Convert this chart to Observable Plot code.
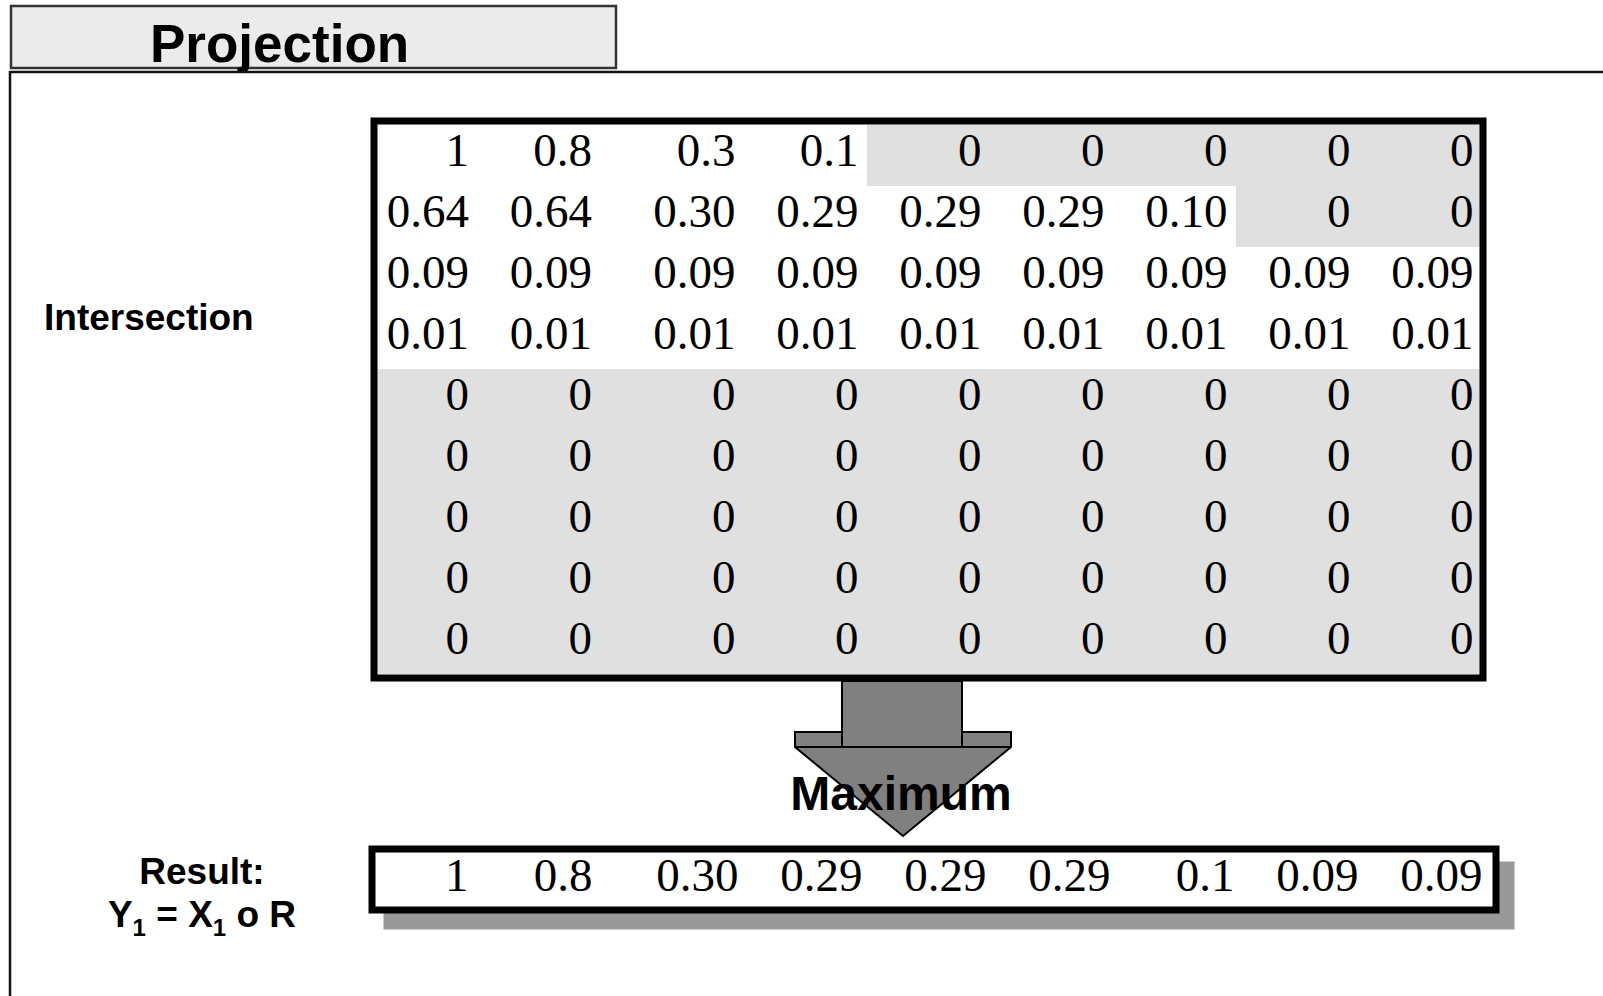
<!DOCTYPE html>
<html>
<head>
<meta charset="utf-8">
<script src="https://cdn.jsdelivr.net/npm/d3@7"></script>
<script src="https://cdn.jsdelivr.net/npm/@observablehq/plot@0.6"></script>
<style>
  html, body { margin: 0; padding: 0; background: #fff; }
  #stage { position: relative; width: 1603px; height: 996px; overflow: hidden; }
  #deco, #matrix, #result { position: absolute; }
  #deco { left: 0; top: 0; }
  #matrix { left: 370px; top: 116.5px; }
  #result { left: 368px; top: 845px; }
  .lbl { font-family: "Liberation Sans", Arial, sans-serif; font-weight: bold; fill: #000; }
</style>
</head>
<body>
<div id="stage">
  <svg id="deco" width="1603" height="996" xmlns="http://www.w3.org/2000/svg">
    <rect x="11" y="6" width="605" height="62" fill="#ebebeb" stroke="#333" stroke-width="2.5"/>
    <text class="lbl" x="150" y="62" font-size="53">Projection</text>
    <line x1="10" y1="72" x2="1603" y2="72" stroke="#111" stroke-width="2.5"/>
    <line x1="10" y1="71" x2="10" y2="996" stroke="#111" stroke-width="2.5"/>
    <polygon points="842,681 842,732 795,732 795,747 903,836 1011,747 1011,732 962,732 962,681"
             fill="#808080" stroke="#000" stroke-width="2" stroke-linejoin="miter"/>
    <line x1="795" y1="747" x2="1011" y2="747" stroke="#000" stroke-width="2"/>
    <line x1="842" y1="732" x2="842" y2="747" stroke="#000" stroke-width="2"/>
    <line x1="962" y1="732" x2="962" y2="747" stroke="#000" stroke-width="2"/>
    <text class="lbl" x="901" y="810" text-anchor="middle" font-size="48">Maximum</text>
    <text class="lbl" x="44" y="330" font-size="37">Intersection</text>
    <text class="lbl" x="202" y="884" text-anchor="middle" font-size="37">Result:</text>
    <text class="lbl" x="202" y="927" text-anchor="middle" font-size="37">Y<tspan font-size="24" dy="9">1</tspan><tspan dy="-9"> = X</tspan><tspan font-size="24" dy="9">1</tspan><tspan dy="-9"> o R</tspan></text>
  </svg>
</div>
<script>
// ---- data ----
const columns = [0, 1, 2, 3, 4, 5, 6, 7, 8];
const row1 = ["1", "0.8", "0.3", "0.1", "0", "0", "0", "0", "0"];
const row2 = ["0.64", "0.64", "0.30", "0.29", "0.29", "0.29", "0.10", "0", "0"];
const row3 = ["0.09", "0.09", "0.09", "0.09", "0.09", "0.09", "0.09", "0.09", "0.09"];
const row4 = ["0.01", "0.01", "0.01", "0.01", "0.01", "0.01", "0.01", "0.01", "0.01"];
const row5 = ["0", "0", "0", "0", "0", "0", "0", "0", "0"];
const row6 = ["0", "0", "0", "0", "0", "0", "0", "0", "0"];
const row7 = ["0", "0", "0", "0", "0", "0", "0", "0", "0"];
const row8 = ["0", "0", "0", "0", "0", "0", "0", "0", "0"];
const row9 = ["0", "0", "0", "0", "0", "0", "0", "0", "0"];
const resultRow = ["1", "0.8", "0.30", "0.29", "0.29", "0.29", "0.1", "0.09", "0.09"];

const rows = [row1, row2, row3, row4, row5, row6, row7, row8, row9];
const cells = rows.flatMap((r, i) => r.map((v, j) => ({row: i, col: j, label: v, value: +v})));
const resultCells = resultRow.map((v, j) => ({col: j, row: 0, label: v}));

const serif = "'Liberation Serif', 'Times New Roman', serif";
const narrowCols = d => d.col < 2;   // first two columns sit a little further left
const wideCols = d => d.col >= 2;

const matrix = Plot.plot({
  width: 1116, height: 564,
  marginTop: 3.5, marginRight: 3.5, marginBottom: 3.5, marginLeft: 3.5,
  x: {type: "band", domain: columns, padding: 0, axis: null},
  y: {type: "band", domain: rows.map((_, i) => i), padding: 0, axis: null},
  color: {type: "identity"},
  style: {background: "transparent", overflow: "visible"},
  marks: [
    Plot.cell(cells, {x: "col", y: "row", inset: 0, fill: d => d.value === 0 ? "#e0e0e0" : "#ffffff", shapeRendering: "crispEdges"}),
    Plot.text(cells, {filter: wideCols, x: "col", y: "row", text: "label", textAnchor: "end", dx: 52.6, dy: -5, fontSize: 47, fontFamily: serif, fill: "#000"}),
    Plot.text(cells, {filter: narrowCols, x: "col", y: "row", text: "label", textAnchor: "end", dx: 32, dy: -5, fontSize: 47, fontFamily: serif, fill: "#000"}),
    Plot.frame({stroke: "#000", strokeWidth: 7})
  ]
});
matrix.id = "matrix";
document.getElementById("stage").appendChild(matrix);

const result = Plot.plot({
  width: 1150, height: 86,
  marginTop: 3.5, marginRight: 22.5, marginBottom: 21.5, marginLeft: 3.5,
  x: {type: "band", domain: columns, padding: 0, axis: null},
  y: {type: "band", domain: [0], padding: 0, axis: null},
  style: {background: "transparent", overflow: "visible"},
  marks: [
    Plot.frame({fill: "#999999", stroke: null, inset: -3.5, dx: 15, dy: 16}),
    Plot.frame({fill: "#ffffff", stroke: "#000", strokeWidth: 7}),
    Plot.text(resultCells, {filter: wideCols, x: "col", y: "row", text: "label", textAnchor: "end", dx: 52, dy: -4, fontSize: 47, fontFamily: serif, fill: "#000"}),
    Plot.text(resultCells, {filter: narrowCols, x: "col", y: "row", text: "label", textAnchor: "end", dx: 30, dy: -4, fontSize: 47, fontFamily: serif, fill: "#000"})
  ]
});
result.id = "result";
document.getElementById("stage").appendChild(result);
</script>
</body>
</html>
